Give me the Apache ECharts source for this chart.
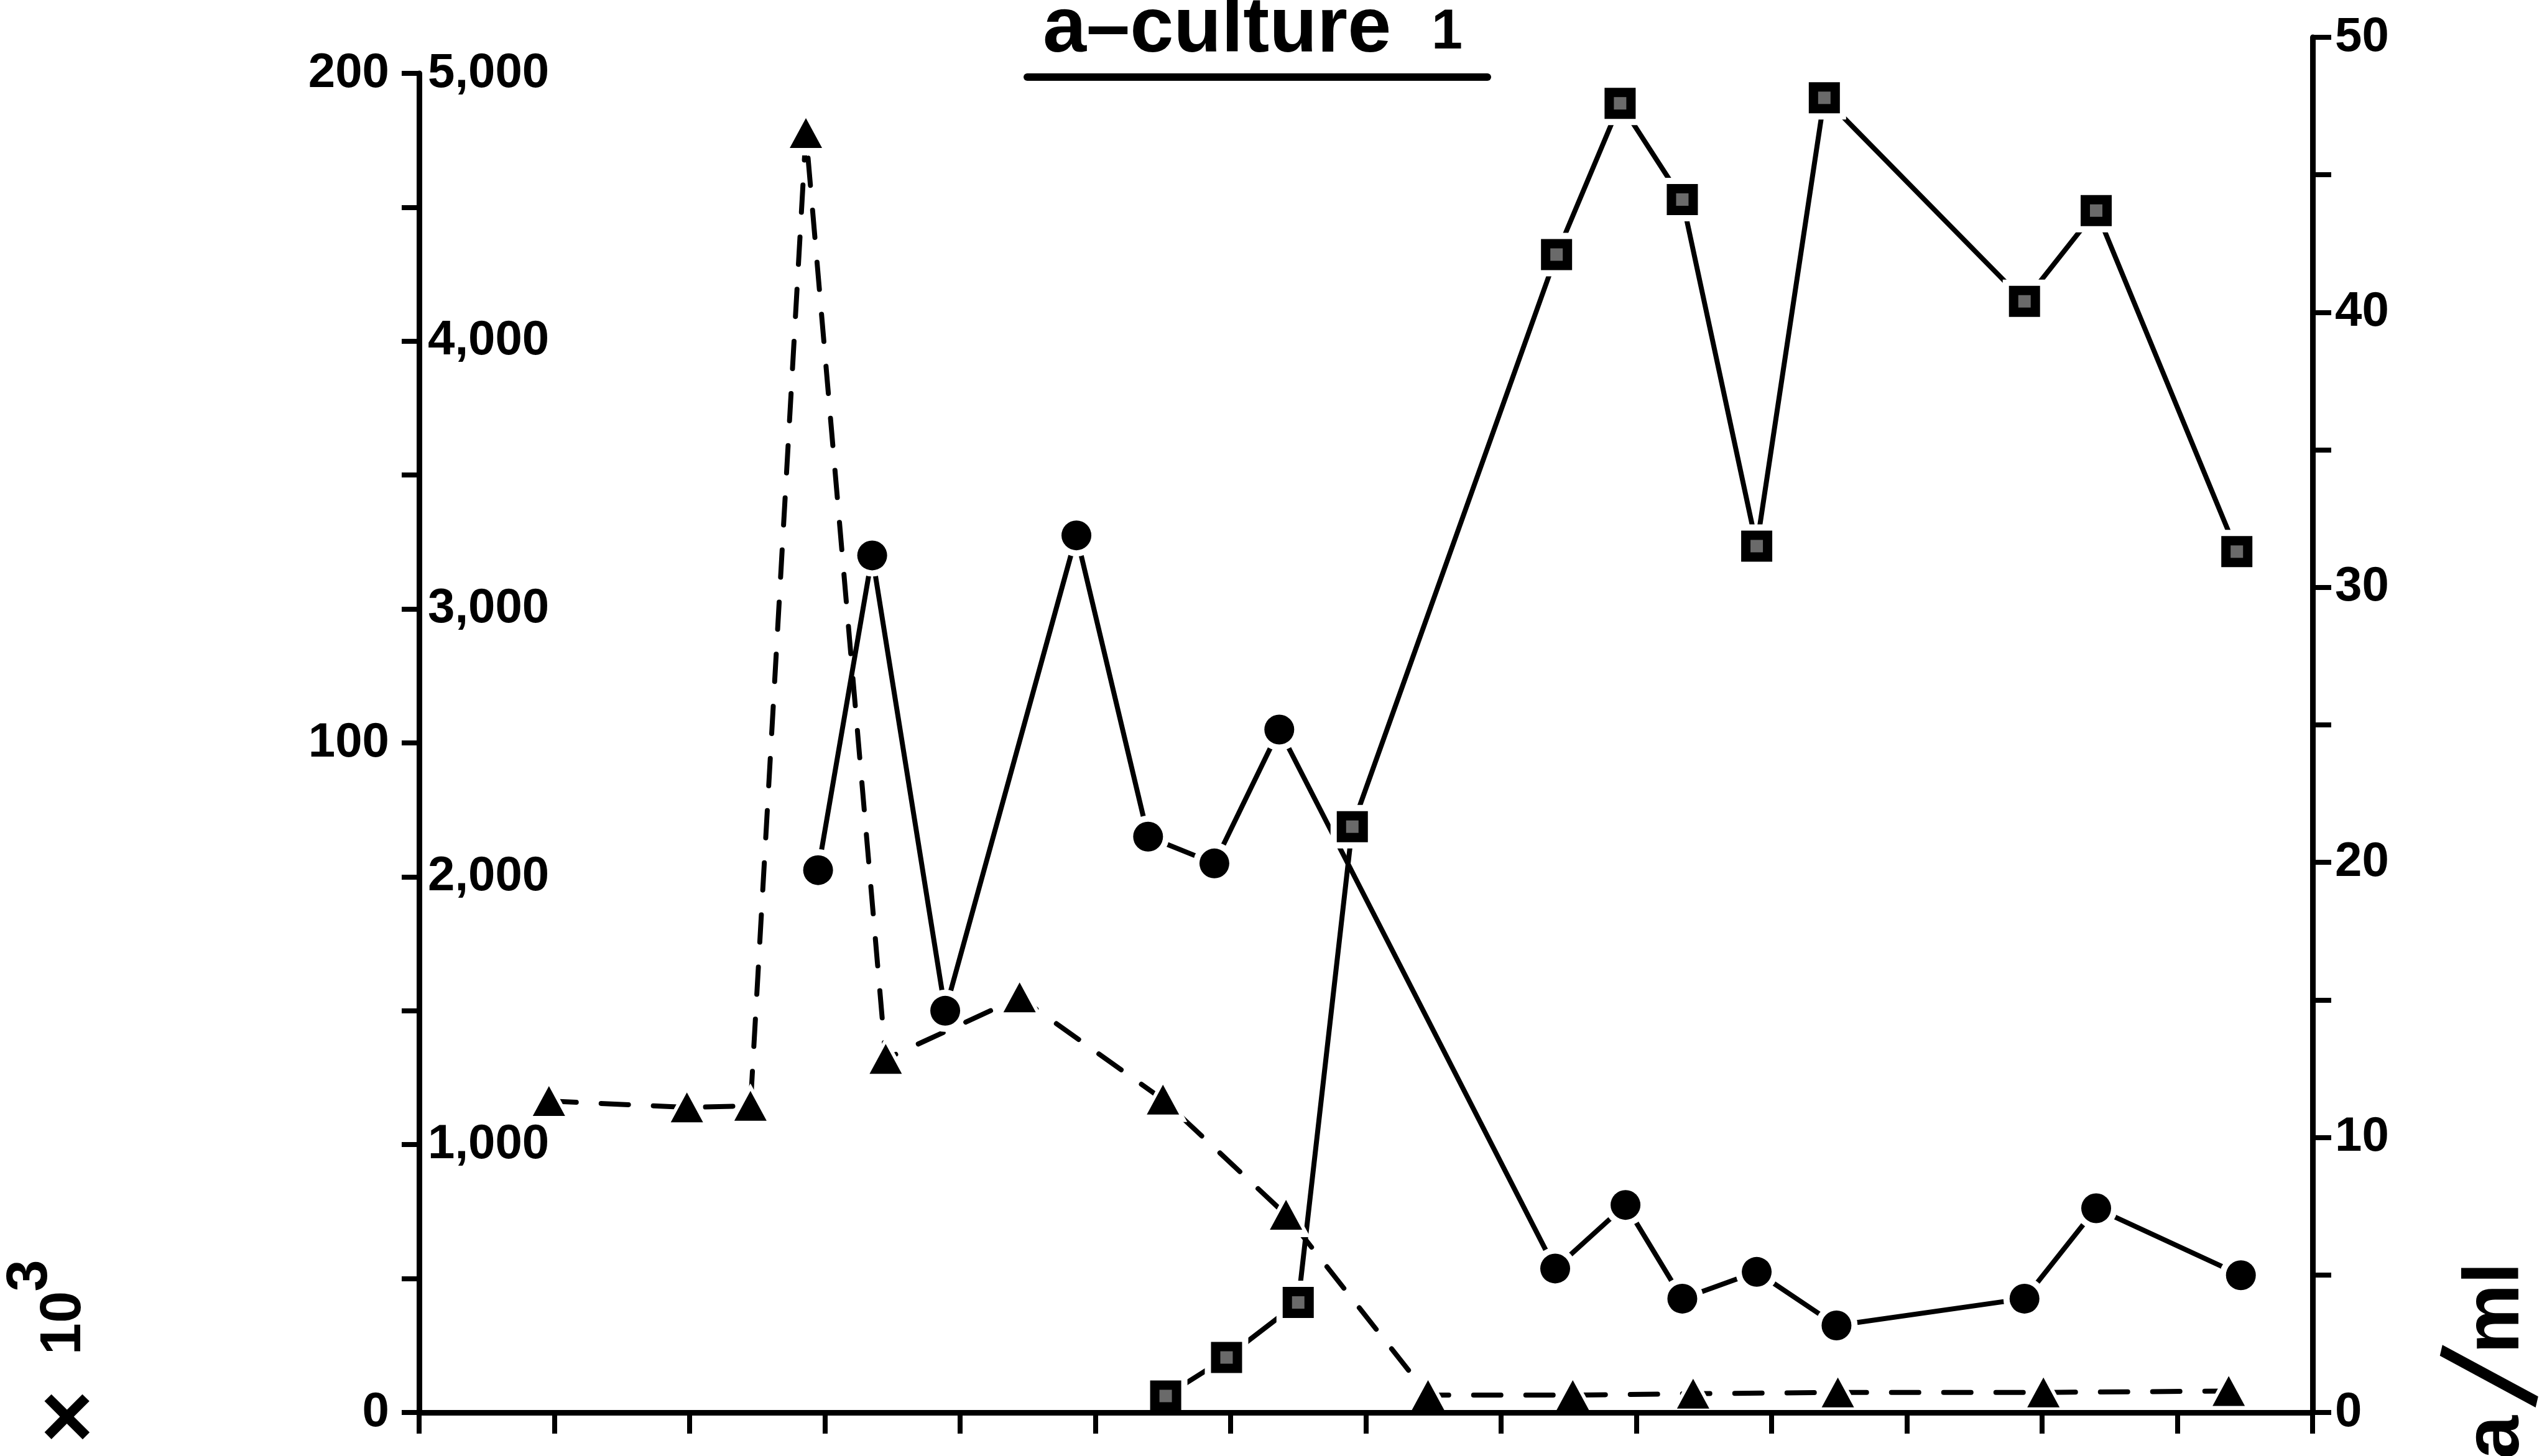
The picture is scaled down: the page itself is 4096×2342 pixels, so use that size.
<!DOCTYPE html>
<html>
<head>
<meta charset="utf-8">
<script src="https://cdn.jsdelivr.net/npm/echarts@6/dist/echarts.min.js"></script>
<style>
  html, body { margin: 0; padding: 0; background: #fff; }
  #chart { width: 4096px; height: 2342px; }
</style>
</head>
<body>
<div id="chart"></div>
<script>
// ---- data -------------------------------------------------------------
// Position along the (unlabelled) time axis, ticks 0..14
const triangleX = [0.96, 1.98, 2.45, 2.86, 3.45, 4.44, 5.50, 6.41, 7.46, 8.53, 9.42, 10.49, 12.01, 13.38];
// Inner left scale, 0 – 5,000
const triangleValues = [1163, 1139, 1145, 4777, 1320, 1550, 1168, 738, 65, 65, 70, 75, 75, 80];

const circleX = [2.95, 3.35, 3.89, 4.86, 5.39, 5.88, 6.36, 8.40, 8.92, 9.34, 9.89, 10.48, 11.87, 12.40, 13.47];
// Outer left scale, 0 – 200 (x 10^3)
const circleValues = [81, 128, 60, 131, 86, 82, 102, 21.5, 31, 17, 21, 13, 17, 30.5, 20.5];

const squareX = [5.52, 5.97, 6.50, 6.90, 8.41, 8.88, 9.34, 9.89, 10.39, 11.87, 12.40, 13.44];
// Right scale, 0 – 50 (a/ml)
const squareValues = [0.6, 2.0, 4.0, 21.3, 42.1, 47.6, 44.1, 31.5, 47.8, 40.4, 43.7, 31.3];

// Tick labels
const innerLeftLabels = ['1,000', '2,000', '3,000', '4,000', '5,000'];
const outerLeftLabels = ['0', '100', '200'];
const rightLabels = ['0', '10', '20', '30', '40', '50'];

// ---- drawing ----------------------------------------------------------
const FONT = '"Liberation Sans", Arial, Helvetica, sans-serif';
const INK = '#000';
const pairs = (xs, ys) => xs.map((x, i) => [x, ys[i]]);

const labelStyle = { color: INK, fontFamily: FONT, fontWeight: 'bold', fontSize: 78 };
const GRID_L = 674, GRID_R = 4096 - 3719, GRID_B = 2342 - 2272;

const chart = echarts.init(document.getElementById('chart'), null, { renderer: 'canvas' });

const lineSeries = (name, xi, yi, data, dashed) => ({
  name, type: 'line', xAxisIndex: xi, yAxisIndex: yi, data,
  symbol: 'none', z: 2, silent: true,
  lineStyle: dashed
    ? { color: INK, width: 8, type: [44, 40], cap: 'round' }
    : { color: INK, width: 8, cap: 'round', join: 'round' }
});
const markSeries = (name, xi, yi, data, symbol, size, color, z) => ({
  name, type: 'scatter', xAxisIndex: xi, yAxisIndex: yi, data,
  symbol, symbolSize: size, z, silent: true,
  itemStyle: { color, opacity: 1 }
});

const triData = pairs(triangleX, triangleValues);
const cirData = pairs(circleX, circleValues);
const sqData = pairs(squareX, squareValues);

const rotatedText = (text, x, y, size, weight, rotation) => ({
  type: 'text', x, y, rotation: rotation === undefined ? Math.PI / 2 : rotation, z: 10,
  style: { text, fill: INK, fontFamily: FONT, fontWeight: weight, fontSize: size, align: 'center', verticalAlign: 'middle' }
});

chart.setOption({
  animation: false,
  backgroundColor: '#fff',
  grid: [
    { left: GRID_L, right: GRID_R, top: 118, bottom: GRID_B, outerBoundsMode: 'none', containLabel: false },
    { left: GRID_L, right: GRID_R, top: 60, bottom: GRID_B, outerBoundsMode: 'none', containLabel: false }
  ],
  xAxis: [
    {
      type: 'value', gridIndex: 0, min: 0, max: 14, interval: 1, z: 6,
      axisLine: { show: true, onZero: false, lineStyle: { color: INK, width: 9 } },
      axisTick: { show: true, inside: false, length: 34, lineStyle: { color: INK, width: 8 } },
      axisLabel: { show: false },
      splitLine: { show: false }
    },
    {
      type: 'value', gridIndex: 1, min: 0, max: 14, interval: 1, show: false,
      splitLine: { show: false }
    }
  ],
  yAxis: [
    { // inner left scale
      type: 'value', gridIndex: 0, position: 'left', min: 0, max: 5000, interval: 500, z: 6,
      axisLine: { show: true, onZero: false, lineStyle: { color: INK, width: 9 } },
      axisTick: { show: true, inside: false, length: 28, lineStyle: { color: INK, width: 8 } },
      axisLabel: Object.assign({
        inside: true, margin: 14, showMinLabel: true, showMaxLabel: true,
        formatter: v => (v > 0 && v % 1000 === 0) ? innerLeftLabels[v / 1000 - 1] : ''
      }, labelStyle),
      splitLine: { show: false }
    },
    { // outer left scale
      type: 'value', gridIndex: 0, position: 'left', min: 0, max: 200, interval: 100, z: 6,
      axisLine: { show: false },
      axisTick: { show: false },
      axisLabel: Object.assign({
        margin: 48, showMinLabel: true, showMaxLabel: true,
        formatter: v => outerLeftLabels[v / 100]
      }, labelStyle),
      splitLine: { show: false }
    },
    { // right scale
      type: 'value', gridIndex: 1, position: 'right', min: 0, max: 50, interval: 5, z: 6,
      axisLine: { show: true, onZero: false, lineStyle: { color: INK, width: 9 } },
      axisTick: { show: true, inside: false, length: 30, lineStyle: { color: INK, width: 8 } },
      axisLabel: Object.assign({
        margin: 36, showMinLabel: true, showMaxLabel: true,
        formatter: v => (v % 10 === 0) ? rightLabels[v / 10] : ''
      }, labelStyle),
      splitLine: { show: false }
    }
  ],
  series: [
    lineSeries('triangles-line', 0, 0, triData, true),
    lineSeries('circles-line', 0, 1, cirData, false),
    lineSeries('squares-line', 1, 2, sqData, false),
    // white halos leave a small gap where the lines meet the markers
    markSeries('triangles-halo', 0, 0, triData, 'triangle', [78, 72], '#fff', 3),
    markSeries('circles-halo', 0, 1, cirData, 'circle', 68, '#fff', 3),
    markSeries('squares-halo', 1, 2, sqData, 'rect', 70, '#fff', 3),
    markSeries('triangles', 0, 0, triData, 'triangle', [52, 48], INK, 4),
    markSeries('circles', 0, 1, cirData, 'circle', 48, INK, 4),
    markSeries('squares', 1, 2, sqData, 'rect', 50, INK, 4),
    // mottled (hatched) centre of the square markers
    markSeries('squares-centre', 1, 2, sqData, 'rect', 20, '#6a6a6a', 5)
  ],
  graphic: [
    // title
    { type: 'text', x: 1677, y: 48, z: 10,
      style: { text: 'a\u2013culture', fill: INK, fontFamily: FONT, fontWeight: 'bold', fontSize: 126, align: 'left', verticalAlign: 'middle' } },
    { type: 'text', x: 2302, y: 53, z: 10,
      style: { text: '1', fill: INK, fontFamily: FONT, fontWeight: 'bold', fontSize: 90, align: 'left', verticalAlign: 'middle' } },
    { type: 'line', z: 10, shape: { x1: 1652, y1: 124, x2: 2392, y2: 124 },
      style: { stroke: INK, lineWidth: 12, lineCap: 'round' } },
    // left unit: x 10^3, reading upwards
    rotatedText('\u00d7', 116, 2279, 145, 'bold'),
    rotatedText('10', 104, 2128, 92, 'bold'),
    rotatedText('3', 50, 2052, 92, 'bold'),
    // right unit: a/ml, reading upwards
    rotatedText('ml', 4015, 2104, 126, 'bold'),
    rotatedText('/', 4021, 2218, 230, 'normal', Math.PI / 2 - 0.23),
    rotatedText('a', 4015, 2312, 126, 'bold')
  ]
});
</script>
</body>
</html>
